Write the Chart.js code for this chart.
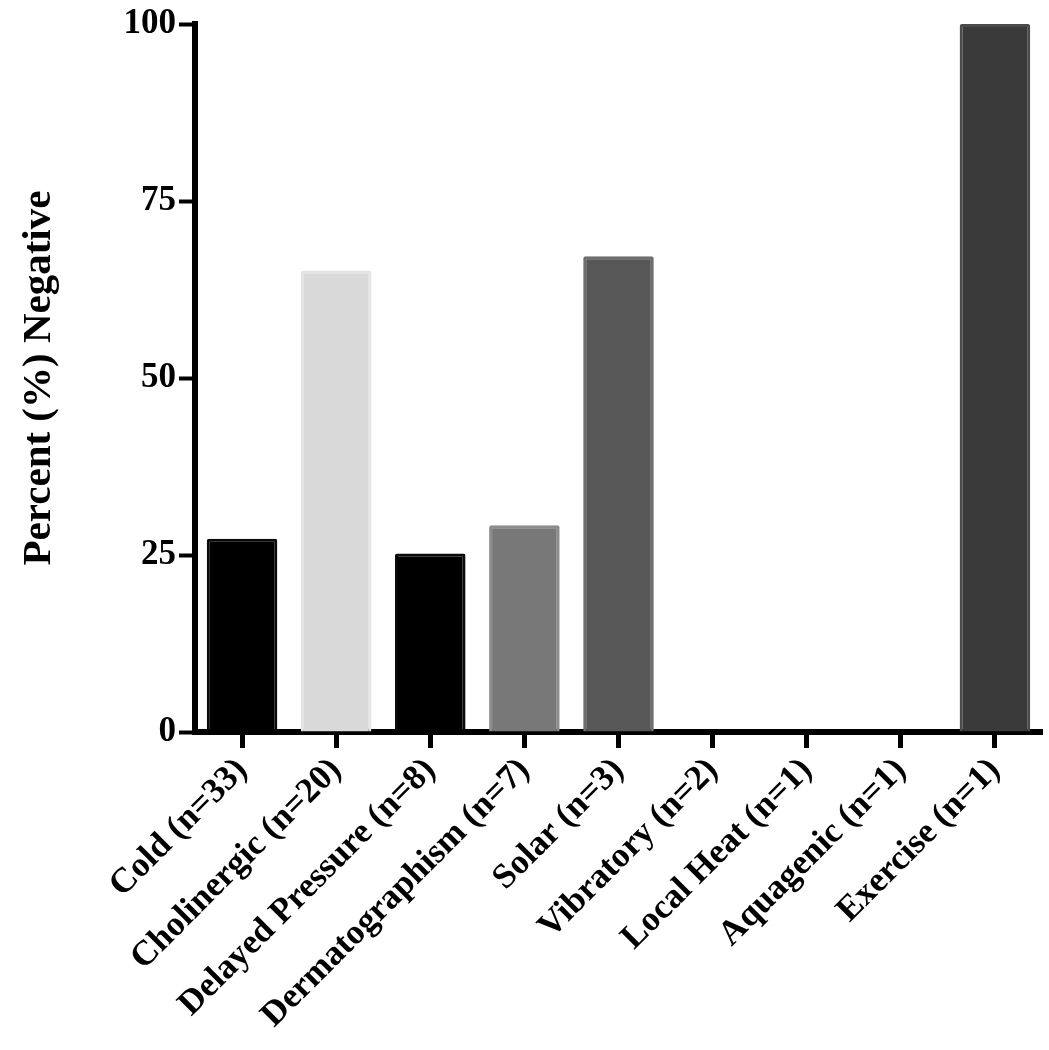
<!DOCTYPE html>
<html>
<head>
<meta charset="utf-8">
<script src="https://cdn.jsdelivr.net/npm/chart.js@4/dist/chart.umd.min.js"></script>
<style>
  html, body { margin: 0; padding: 0; background: #fff; }
  #wrap { width: 1049px; height: 1050px; }
</style>
</head>
<body>
<div id="wrap"><canvas id="urticariaChart" width="1049" height="1050"></canvas></div>
<script>
// urticaria subtypes, percent negative per group
const categories = [
    'Cold (n=33)', 'Cholinergic (n=20)', 'Delayed Pressure (n=8)',
    'Dermatographism (n=7)', 'Solar (n=3)', 'Vibratory (n=2)',
    'Local Heat (n=1)', 'Aquagenic (n=1)', 'Exercise (n=1)'
];
const percentNegative = [27.3, 65.2, 25.2, 29.2, 67.2, 0, 0, 0, 100];
const yTicks = [0, 25, 50, 75, 100];

const fillColors = ['#000000', '#d9d9d9', '#000000', '#787878', '#575757', '#000000', '#000000', '#000000', '#3a3a3a'];
const edgeColors = ['#0a0a0a', '#e4e4e4', '#0a0a0a', '#8c8c8c', '#6e6e6e', '#0a0a0a', '#0a0a0a', '#0a0a0a', '#4b4b4b'];

const serif = "'Liberation Serif', 'Times New Roman', serif";

const ctx = document.getElementById('urticariaChart');

new Chart(ctx, {
    type: 'bar',
    data: {
        labels: categories,
        datasets: [{
            label: 'Percent (%) Negative',
            data: percentNegative,
            backgroundColor: fillColors,
            borderColor: edgeColors,
            borderWidth: 3,
            borderRadius: 2,
            borderSkipped: 'bottom',
            barPercentage: 0.75,
            categoryPercentage: 1
        }]
    },
    options: {
        responsive: false,
        animation: false,
        devicePixelRatio: 1,
        layout: { padding: { top: 23, right: 7, left: 0, bottom: 0 } },
        plugins: {
            legend: { display: false },
            tooltip: { enabled: false }
        },
        scales: {
            x: {
                offset: true,
                grid: {
                    drawOnChartArea: false,
                    offset: false,
                    tickLength: 16,
                    tickWidth: 5,
                    tickColor: '#000'
                },
                border: { display: true, color: '#000', width: 6 },
                ticks: {
                    autoSkip: false,
                    minRotation: 45,
                    maxRotation: 45,
                    padding: 2,
                    color: '#000',
                    font: { family: serif, size: 35, weight: 'bold' }
                },
                afterFit: (scale) => { scale.height = 318; }
            },
            y: {
                min: 0,
                max: 100,
                afterBuildTicks: (scale) => {
                    scale.ticks = yTicks.map(v => ({ value: v }));
                },
                grid: {
                    drawOnChartArea: false,
                    tickLength: 16,
                    tickWidth: 4,
                    tickColor: '#000'
                },
                border: { display: true, color: '#000', width: 6 },
                ticks: {
                    padding: 3,
                    color: '#000',
                    font: { family: serif, size: 35, weight: 'bold' }
                },
                title: {
                    display: true,
                    text: 'Percent (%) Negative',
                    color: '#000',
                    padding: { top: 15, bottom: 0 },
                    font: { family: serif, size: 41, weight: 'bold' }
                },
                afterFit: (scale) => { scale.width = 195; }
            }
        }
    }
});
</script>
</body>
</html>
